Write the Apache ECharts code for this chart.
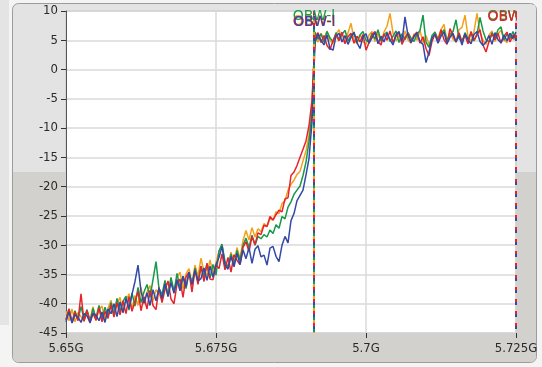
<!DOCTYPE html>
<html>
<head>
<meta charset="utf-8">
<script src="https://cdn.jsdelivr.net/npm/echarts@6/dist/echarts.min.js"></script>
<style>
  html, body { margin: 0; padding: 0; background: #f4f4f4; }
  #chart { width: 542px; height: 367px; }
</style>
</head>
<body>
<div id="chart"></div>
<script>
// sweep: 5.65 GHz .. 5.725 GHz, 151 points, 0.5 MHz step
const startMHz = 5650;
const stepMHz = 0.5;

const xTicks = [5650, 5675, 5700, 5725];
const yTicks = [-45, -40, -35, -30, -25, -20, -15, -10, -5, 0, 5, 10];

// dBm per sweep point (i = 0..82 lower skirt, 83..150 in band)
const redTrace = [
  -42.8, -40.9, -43.2, -41.4, -42.9, -38.3, -43.0, -41.2, -43.3, -41.6, -42.8, -40.7, -43.1, -41.3, -42.5,
  -40.2, -42.3, -39.8, -41.9, -39.5, -41.7, -38.8, -41.3, -39.6, -37.9, -41.2, -38.8, -40.9, -37.7, -40.3,
  -41.0, -37.2, -39.8, -37.6, -36.1, -39.2, -40.0, -36.6, -35.8, -38.9, -35.4, -34.6, -38.0, -34.2, -36.7,
  -33.6, -36.2, -33.1, -35.8, -35.9, -33.4, -34.0, -31.5, -34.2, -32.1, -34.6, -31.6, -32.6, -33.3, -30.4,
  -29.4, -31.1, -28.5, -29.9, -27.9, -28.2, -26.6, -26.8, -25.1, -25.7, -24.8, -24.0, -24.3, -22.1, -21.9,
  -18.1, -17.5, -16.4, -15.0, -13.6, -12.2, -9.6, -5.2,
  5.2, 6.3, 4.6, 5.8, 4.1, 3.4, 4.9, 6.0, 4.9, 6.4, 4.4, 5.6, 6.2, 4.5, 5.7, 4.7, 6.0,
  3.3, 4.6, 5.9, 6.5, 4.8, 4.2, 6.1, 5.0, 6.6, 4.6, 5.7, 6.3, 4.3, 5.5, 6.2, 4.7, 5.8,
  6.4, 4.5, 5.6, 3.6, 2.4, 4.8, 6.1, 4.9, 6.8, 5.1, 4.3, 7.0, 5.8, 4.7, 6.3, 4.8, 5.9,
  4.4, 6.5, 5.0, 6.0, 6.8, 4.2, 3.0, 4.8, 6.1, 5.1, 6.2, 4.5, 5.7, 6.4, 4.7, 5.9, 5.2
];
const orangeTrace = [
  -41.3, -42.9, -40.9, -43.1, -41.5, -42.2, -43.0, -41.2, -42.8, -40.5, -42.9, -41.0, -40.4, -42.6, -40.8,
  -39.4, -41.9, -40.1, -38.9, -41.6, -39.5, -38.3, -40.8, -38.6, -40.3, -37.2, -40.1, -38.0, -36.9, -39.6,
  -37.6, -38.3, -39.4, -36.2, -38.4, -35.7, -38.0, -35.5, -34.6, -37.4, -34.9, -34.0, -36.5, -33.4, -35.3,
  -32.2, -34.6, -35.1, -32.5, -34.9, -33.0, -31.0, -30.0, -33.2, -33.5, -31.2, -33.1, -30.4, -32.3, -29.2,
  -27.5, -29.1, -27.0, -28.6, -27.2, -27.7, -26.3, -26.8, -25.5, -25.7, -24.3, -24.6, -22.9, -22.4, -20.6,
  -19.6, -18.9, -17.9, -17.4, -15.6, -13.9, -11.2, -6.0,
  5.6, 4.7, 6.2, 5.1, 6.6, 4.9, 4.5, 6.1, 6.8, 5.0, 4.6, 6.3, 7.9, 5.2, 4.4, 6.0, 4.8,
  4.3, 5.9, 6.5, 4.8, 6.1, 4.6, 6.4, 7.4, 9.6, 6.2, 4.9, 5.9, 4.7, 6.6, 5.1, 4.5, 6.1,
  5.0, 6.7, 4.6, 5.8, 4.3, 5.1, 6.2, 5.3, 6.8, 7.7, 4.9, 6.4, 5.2, 4.7, 6.8, 7.2, 9.3,
  5.6, 4.8, 6.5, 9.6, 6.3, 5.0, 4.3, 5.9, 6.6, 4.8, 6.1, 6.7, 5.1, 4.6, 6.2, 5.2, 5.1
];
const greenTrace = [
  -42.7, -40.9, -43.2, -41.2, -42.8, -40.5, -42.5, -41.0, -43.0, -40.8, -42.4, -40.3, -42.7, -40.6, -42.2,
  -39.8, -41.7, -39.1, -41.3, -39.6, -38.7, -41.1, -38.2, -40.4, -37.2, -39.8, -38.0, -36.7, -38.9, -35.9,
  -32.8, -37.4, -38.4, -36.0, -38.7, -35.5, -38.0, -34.8, -37.3, -35.3, -37.4, -34.6, -36.8, -33.9, -36.2,
  -33.6, -35.4, -33.1, -35.6, -33.3, -35.1, -31.0, -29.8, -32.8, -33.8, -31.5, -33.4, -30.9, -32.6, -30.0,
  -28.8, -30.4, -28.3, -30.0, -28.5, -28.9, -28.2, -28.6, -27.4, -28.0, -26.5, -27.1, -25.1, -25.5, -23.5,
  -22.6, -21.3, -20.6, -19.9, -18.1, -15.8, -12.3, -7.5,
  6.4, 5.2, 6.1, 4.7, 6.5, 5.4, 4.8, 6.3, 5.1, 6.0, 6.7, 4.9, 5.8, 6.2, 4.6, 5.9, 6.5,
  5.0, 4.7, 6.2, 5.2, 6.8, 4.9, 5.9, 6.4, 4.8, 5.7, 6.6, 4.6, 6.1, 5.1, 6.3, 5.4, 4.8,
  6.0, 6.7, 9.3, 4.7, 3.8, 5.8, 6.4, 5.1, 6.1, 6.8, 5.0, 5.9, 6.5, 8.5, 5.3, 4.8, 6.3,
  5.2, 6.2, 4.9, 6.0, 8.9, 6.6, 5.1, 4.7, 6.3, 5.4, 6.8, 7.3, 5.0, 6.1, 5.3, 6.5, 5.0
];
const blueTrace = [
  -43.1, -41.4, -43.3, -41.9, -42.3, -43.2, -41.7, -42.1, -43.2, -41.6, -42.0, -42.9, -41.4, -43.2, -40.9,
  -41.7, -40.0, -42.2, -39.7, -41.5, -39.1, -40.8, -38.4, -36.2, -33.4, -37.9, -39.9, -38.1, -40.3, -37.6,
  -39.5, -37.3, -39.1, -36.6, -38.8, -36.4, -38.2, -35.9, -37.8, -35.3, -37.1, -34.6, -36.7, -34.3, -36.1,
  -35.7, -33.9, -36.0, -33.6, -35.5, -33.3, -32.1, -30.2, -33.4, -34.1, -31.9, -33.7, -31.4, -33.3, -30.8,
  -32.3, -30.4, -33.1, -30.7, -30.1, -32.0, -31.7, -33.4, -30.5, -30.2, -31.9, -32.8, -30.0, -28.5, -29.6,
  -25.8, -24.6, -22.4, -21.5, -20.6, -18.0, -15.2, -9.0,
  4.6, 6.1, 5.0, 4.2, 5.9, 3.6, 3.3, 5.7, 6.2, 4.7, 5.8, 4.3, 5.5, 6.4, 4.6, 3.6, 5.6,
  6.1, 4.5, 5.4, 6.3, 4.4, 5.7, 4.7, 6.2, 5.1, 4.2, 6.0, 6.5, 4.8, 9.0, 5.8, 4.6, 5.6,
  6.3, 4.8, 4.3, 1.2, 2.9, 5.4, 6.0, 4.5, 5.7, 6.4, 4.4, 5.5, 6.2, 4.7, 5.9, 4.2, 6.1,
  5.0, 4.4, 6.0, 6.5, 4.8, 4.1, 4.7, 5.8, 4.3, 6.3, 5.1, 4.6, 5.9, 4.9, 6.2, 5.3, 6.4
];

// OBW markers (MHz)
const obwLow = 5691.33;
const obwHigh = 5724.9;

const colors = { red: '#e8232b', orange: '#f5a01a', green: '#16994a', blue: '#3349a6' };
const font = 'DejaVu Sans Condensed';

function pairs(values) {
  return values.map((v, i) => [startMHz + i * stepMHz, v]);
}

function markerLines(positions, color, offset) {
  return {
    silent: true,
    symbol: ['none', 'none'],
    label: { show: false },
    animation: false,
    lineStyle: { color: color, width: 2, type: [3, 9], dashOffset: offset, opacity: 1 },
    data: positions.map(p => [{ coord: [p, 10] }, { coord: [p, -45] }])
  };
}

function markerLabels(items, color) {
  return {
    silent: true,
    symbol: 'rect',
    symbolSize: 1,
    itemStyle: { color: 'rgba(0,0,0,0)' },
    animation: false,
    label: {
      show: true,
      position: 'inside',
      color: color,
      fontFamily: 'DejaVu Sans',
      fontSize: 14,
      formatter: p => p.name
    },
    data: items
  };
}

function trace(name, values, color, dashOffset, lines, labels) {
  return {
    name: name,
    type: 'line',
    data: pairs(values),
    showSymbol: false,
    clip: true,
    lineStyle: { color: color, width: 1.5 },
    itemStyle: { color: color },
    markLine: markerLines(lines, color, dashOffset),
    markPoint: markerLabels(labels, color)
  };
}

const rightLabel = (y) => ({
  name: 'OBW-r', coord: [obwHigh, y],
  label: { align: 'left', offset: [-28, 0] }
});

const chart = echarts.init(document.getElementById('chart'));
chart.setOption({
  animation: false,
  backgroundColor: '#f4f4f4',
  graphic: [
    { type: 'rect', z: -20, shape: { x: 0, y: 0, width: 9, height: 325 }, style: { fill: '#e4e4e4' } },
    { type: 'rect', z: -20, shape: { x: 12.5, y: 3.5, width: 524, height: 359, r: 6 },
      style: { fill: '#e3e3e3', stroke: '#9c9c9c', lineWidth: 1 } },
    { type: 'rect', z: -19, shape: { x: 13, y: 172, width: 523, height: 190, r: [0, 0, 5, 5] },
      style: { fill: '#d3d1ce' } },
    { type: 'rect', z: -18, shape: { x: 66, y: 11, width: 450, height: 322 }, style: { fill: '#ffffff' } },
    // plot frame edge hides label overflow past the right marker
    { type: 'rect', z: 100, shape: { x: 517, y: 5, width: 18.5, height: 30 }, style: { fill: '#e3e3e3' } }
  ],
  grid: { left: 66, top: 11, width: 450, height: 322, show: true, borderColor: '#a9a9a9', borderWidth: 1 },
  xAxis: {
    type: 'value',
    min: xTicks[0],
    max: xTicks[xTicks.length - 1],
    interval: 25,
    axisLine: { show: false, onZero: false },
    axisTick: { show: true, length: 5, lineStyle: { color: '#333' } },
    splitLine: { show: true, lineStyle: { color: '#dadada', width: 1.5 } },
    axisLabel: {
      margin: 9,
      color: '#2a2a2a',
      fontFamily: font,
      fontSize: 13,
      formatter: v => (xTicks.includes(v) ? (v / 1000) + 'G' : '')
    }
  },
  yAxis: {
    type: 'value',
    min: yTicks[0],
    max: yTicks[yTicks.length - 1],
    interval: 5,
    axisLine: { show: true, onZero: false, lineStyle: { color: '#555', width: 1 } },
    axisTick: { show: true, length: 5, lineStyle: { color: '#333' } },
    splitLine: { show: true, lineStyle: { color: '#dadada', width: 1.5 } },
    axisLabel: { margin: 8, color: '#2a2a2a', fontFamily: font, fontSize: 13 }
  },
  series: [
    trace('orange', orangeTrace, colors.orange, 3, [obwLow],
      [{ name: 'OBW-l', coord: [obwLow, 8.2] }, rightLabel(9.0)]),
    trace('green', greenTrace, colors.green, 6, [obwLow],
      [{ name: 'OBW-l', coord: [obwLow, 9.1] }, rightLabel(9.1)]),
    trace('red', redTrace, colors.red, 0, [obwLow, obwHigh],
      [{ name: 'OBW-l', coord: [obwLow, 8.1] }, rightLabel(8.9)]),
    trace('blue', blueTrace, colors.blue, 9, [obwLow, obwHigh],
      [{ name: 'OBW-l', coord: [obwLow + 0.1, 8.0] }])
  ]
});
</script>
</body>
</html>
